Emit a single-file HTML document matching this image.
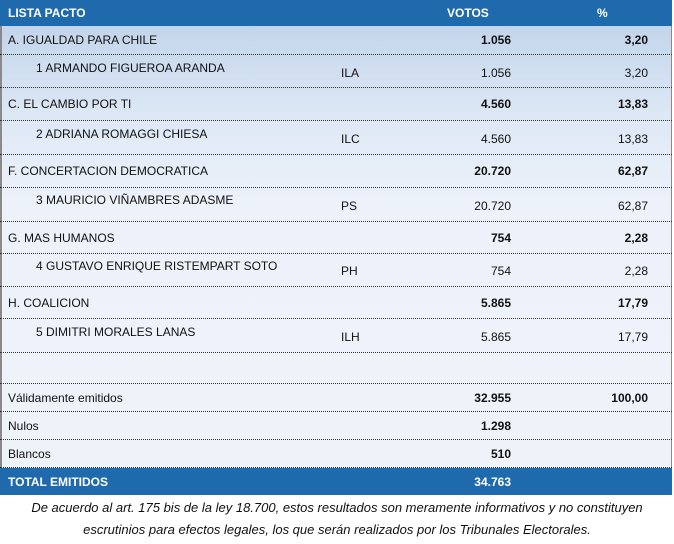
<!DOCTYPE html>
<html><head><meta charset="utf-8"><style>
body{margin:0;width:674px;height:544px;background:#fff;font-family:"Liberation Sans",sans-serif;position:relative;overflow:hidden}
.bg{position:absolute;left:0;top:26px;width:672px;height:442px;background:linear-gradient(#c3d5eb 0px,#dde8f5 90px,#edf2fa 180px,#eef3fa 442px);border-left:2px solid #8a8a8a;box-sizing:border-box;border-right:1px solid #8a8a8a}
.hd{position:absolute;left:0;width:672px;height:26px;background:#1f6aad;color:#fff;font-weight:bold;font-size:12px}
.r{position:absolute;left:0;width:672px;border-bottom:1px dotted #333;font-size:12px;color:#111}
.t{position:absolute;white-space:nowrap}
.b{font-weight:bold}
.v{right:161px;text-align:right}
.p{right:24px;text-align:right}
.foot{position:absolute;left:0;width:674px;text-align:center;font-style:italic;font-size:13px;color:#111}
</style></head><body>
<div class="bg"></div>
<div class="hd" style="top:0"><span class="t" style="left:8px;top:6px">LISTA PACTO</span><span class="t" style="left:447px;top:6px">VOTOS</span><span class="t" style="left:597px;top:6px">%</span></div>

<div class="r" style="top:26px;height:28px"><span class="t" style="left:8px;top:7px">A. IGUALDAD PARA CHILE</span><span class="t v b" style="top:7px">1.056</span><span class="t p b" style="top:7px">3,20</span></div>
<div class="r" style="top:55px;height:32px"><span class="t" style="left:36px;top:6px">1 ARMANDO FIGUEROA ARANDA</span><span class="t" style="left:341px;top:11px">ILA</span><span class="t v" style="top:11px">1.056</span><span class="t p" style="top:11px">3,20</span></div>
<div class="r" style="top:88px;height:32px"><span class="t" style="left:8px;top:9px">C. EL CAMBIO POR TI</span><span class="t v b" style="top:9px">4.560</span><span class="t p b" style="top:9px">13,83</span></div>
<div class="r" style="top:121px;height:33px"><span class="t" style="left:36px;top:6px">2 ADRIANA ROMAGGI CHIESA</span><span class="t" style="left:341px;top:11px">ILC</span><span class="t v" style="top:11px">4.560</span><span class="t p" style="top:11px">13,83</span></div>
<div class="r" style="top:155px;height:32px"><span class="t" style="left:8px;top:9px">F. CONCERTACION DEMOCRATICA</span><span class="t v b" style="top:9px">20.720</span><span class="t p b" style="top:9px">62,87</span></div>
<div class="r" style="top:188px;height:33px"><span class="t" style="left:36px;top:5px">3 MAURICIO VIÑAMBRES ADASME</span><span class="t" style="left:341px;top:11px">PS</span><span class="t v" style="top:11px">20.720</span><span class="t p" style="top:11px">62,87</span></div>
<div class="r" style="top:222px;height:31px"><span class="t" style="left:8px;top:9px">G. MAS HUMANOS</span><span class="t v b" style="top:9px">754</span><span class="t p b" style="top:9px">2,28</span></div>
<div class="r" style="top:254px;height:32px"><span class="t" style="left:36px;top:5px">4 GUSTAVO ENRIQUE RISTEMPART SOTO</span><span class="t" style="left:341px;top:10px">PH</span><span class="t v" style="top:10px">754</span><span class="t p" style="top:10px">2,28</span></div>
<div class="r" style="top:287px;height:31px"><span class="t" style="left:8px;top:9px">H. COALICION</span><span class="t v b" style="top:9px">5.865</span><span class="t p b" style="top:9px">17,79</span></div>
<div class="r" style="top:319px;height:33px"><span class="t" style="left:36px;top:6px">5 DIMITRI MORALES LANAS</span><span class="t" style="left:341px;top:11px">ILH</span><span class="t v" style="top:11px">5.865</span><span class="t p" style="top:11px">17,79</span></div>
<div class="r" style="top:353px;height:30px"></div>
<div class="r" style="top:384px;height:27px"><span class="t" style="left:8px;top:7px">Válidamente emitidos</span><span class="t v b" style="top:7px">32.955</span><span class="t p b" style="top:7px">100,00</span></div>
<div class="r" style="top:412px;height:27px"><span class="t" style="left:8px;top:7px">Nulos</span><span class="t v b" style="top:7px">1.298</span></div>
<div class="r" style="top:440px;height:27px"><span class="t" style="left:8px;top:7px">Blancos</span><span class="t v b" style="top:7px">510</span></div>
<div class="hd" style="top:468px;height:27px"><span class="t" style="left:8px;top:7px">TOTAL EMITIDOS</span><span class="t v" style="top:7px">34.763</span></div>

<div class="foot" style="top:500px">De acuerdo al art. 175 bis de la ley 18.700, estos resultados son meramente informativos y no constituyen</div>
<div class="foot" style="top:522px">escrutinios para efectos legales, los que serán realizados por los Tribunales Electorales.</div>
</body></html>
